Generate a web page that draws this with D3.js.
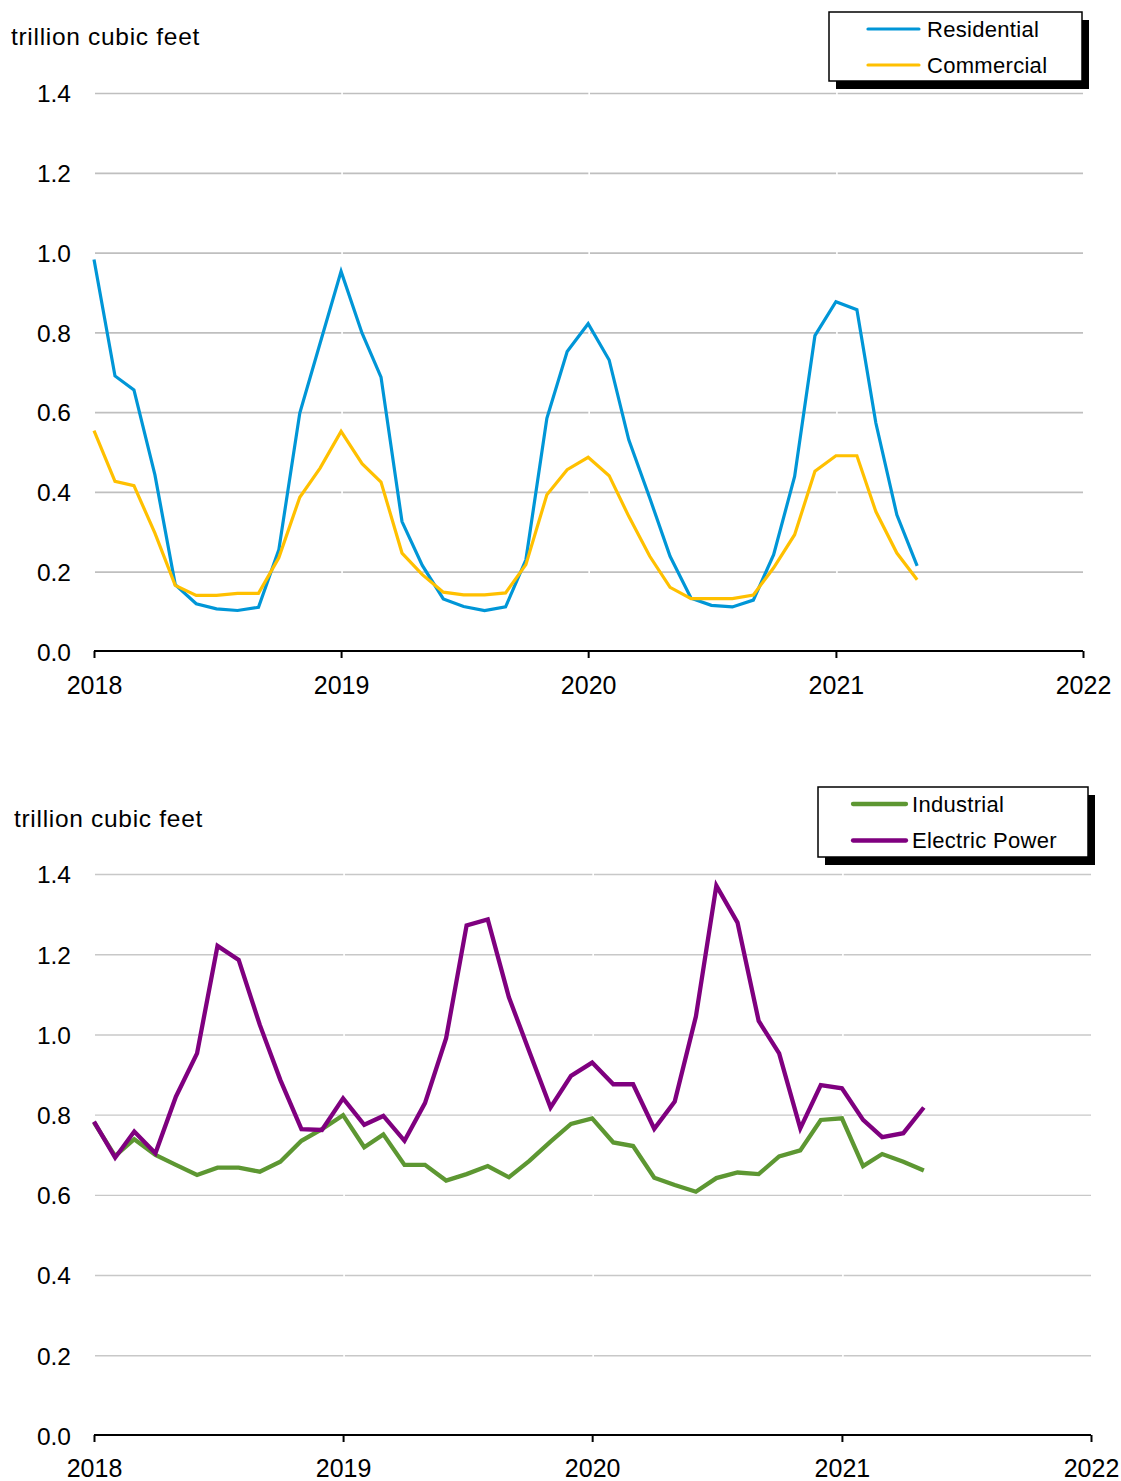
<!DOCTYPE html>
<html>
<head>
<meta charset="utf-8">
<script src="https://cdn.jsdelivr.net/npm/d3@7"></script>
<style>
  html, body { margin: 0; padding: 0; background: #fff; }
  svg { display: block; font-family: Arial, "Liberation Sans", sans-serif; }
</style>
</head>
<body>
<svg id="chart" width="1121" height="1481"></svg>
<script>
// ---------- DATA (monthly, Jan 2018 – May 2021) ----------
const startMonth = "2018-01";
const yearTicks = [2018, 2019, 2020, 2021, 2022];
const yTicks = [0.0, 0.2, 0.4, 0.6, 0.8, 1.0, 1.2, 1.4];
const unitLabel = "trillion cubic feet";

const residential = [0.984, 0.692, 0.657, 0.444, 0.169, 0.121, 0.108, 0.104, 0.112, 0.256, 0.599, 0.774,
  0.954, 0.799, 0.689, 0.327, 0.217, 0.133, 0.114, 0.104, 0.113, 0.231, 0.586, 0.753,
  0.823, 0.732, 0.532, 0.386, 0.240, 0.135, 0.117, 0.113, 0.130, 0.244, 0.440, 0.793,
  0.878, 0.858, 0.574, 0.344, 0.216];
const commercial = [0.555, 0.428, 0.417, 0.298, 0.167, 0.142, 0.142, 0.147, 0.147, 0.236, 0.388, 0.461,
  0.553, 0.472, 0.426, 0.248, 0.194, 0.150, 0.143, 0.143, 0.148, 0.219, 0.394, 0.457,
  0.488, 0.442, 0.340, 0.240, 0.162, 0.134, 0.134, 0.134, 0.143, 0.211, 0.294, 0.453,
  0.492, 0.492, 0.352, 0.248, 0.181];
const industrial = [0.782, 0.698, 0.740, 0.701, 0.676, 0.651, 0.669, 0.669, 0.659, 0.684, 0.736, 0.765,
  0.800, 0.720, 0.752, 0.676, 0.676, 0.637, 0.653, 0.673, 0.645, 0.686, 0.734, 0.778,
  0.792, 0.732, 0.723, 0.644, 0.626, 0.609, 0.643, 0.657, 0.653, 0.697, 0.712, 0.788,
  0.792, 0.673, 0.703, 0.684, 0.662];
const electricPower = [0.784, 0.694, 0.759, 0.705, 0.846, 0.954, 1.222, 1.187, 1.025, 0.888, 0.765, 0.763,
  0.842, 0.776, 0.798, 0.736, 0.830, 0.992, 1.273, 1.288, 1.094, 0.958, 0.819, 0.898,
  0.931, 0.877, 0.877, 0.766, 0.834, 1.046, 1.372, 1.280, 1.035, 0.954, 0.767, 0.875,
  0.867, 0.788, 0.745, 0.755, 0.819];

const seriesTop = [
  { name: "Residential", values: residential, color: "#0096D7" },
  { name: "Commercial", values: commercial, color: "#FFC000" }
];
const seriesBottom = [
  { name: "Industrial", values: industrial, color: "#5D9732" },
  { name: "Electric Power", values: electricPower, color: "#7F007F" }
];

// ---------- DRAW ----------
const svg = d3.select("#chart");
const parseMonth = d3.timeParse("%Y-%m");
const months = d3.timeMonth.range(parseMonth(startMonth), d3.timeMonth.offset(parseMonth(startMonth), residential.length));

function panel(cfg) {
  const g = svg.append("g");
  const x = d3.scaleTime()
    .domain([new Date(yearTicks[0], 0, 1), new Date(yearTicks[yearTicks.length - 1], 0, 1)])
    .range([cfg.x0, cfg.x1]);
  const y = d3.scaleLinear().domain([0, 1.4]).range([cfg.y0, cfg.y1]);

  // gridlines
  g.append("g").selectAll("line").data(yTicks.filter(v => v > 0)).join("line")
    .attr("x1", cfg.x0 + 1).attr("x2", cfg.x1)
    .attr("y1", d => y(d)).attr("y2", d => y(d))
    .attr("stroke", cfg.gridColor).attr("stroke-width", cfg.gridWidth);
  // small white gaps at year positions (as in original)
  g.append("g").selectAll("line").data(yearTicks.slice(1, -1)).join("line")
    .attr("x1", d => x(new Date(d, 0, 1)) + 1).attr("x2", d => x(new Date(d, 0, 1)) + 1)
    .attr("y1", y(1.4) - 2).attr("y2", y(0) - 3)
    .attr("stroke", "#fff").attr("stroke-width", 1.6);

  // y tick labels
  g.append("g").selectAll("text").data(yTicks).join("text")
    .attr("x", 71).attr("y", d => y(d)).attr("dy", "0.36em")
    .attr("text-anchor", "end").attr("font-size", 24.5).attr("fill", "#000")
    .text(d => d3.format(".1f")(d));

  // x axis
  const xAxis = d3.axisBottom(x)
    .tickValues(yearTicks.map(yy => new Date(yy, 0, 1)))
    .tickFormat(d3.timeFormat("%Y"))
    .tickSize(7).tickSizeOuter(0);
  const ax = g.append("g").attr("transform", `translate(0,${y(0) - 1})`).call(xAxis);
  ax.select(".domain").attr("stroke", "#000").attr("stroke-width", 2.2)
    .attr("d", `M${cfg.x0},0H${cfg.x1}`);
  ax.selectAll(".tick line").attr("stroke", "#000").attr("stroke-width", 2);
  ax.selectAll(".tick text").attr("font-size", 25).attr("fill", "#000")
    .attr("font-family", "Arial, 'Liberation Sans', sans-serif")
    .attr("y", cfg.labelOffset).attr("dy", 0);

  // unit label
  g.append("text").attr("x", cfg.unitX).attr("y", cfg.unitY)
    .attr("font-size", 24.5).attr("fill", "#000").attr("letter-spacing", 0.7)
    .text(unitLabel);

  // lines
  const line = d3.line().x((d, i) => x(months[i])).y(d => y(d));
  g.append("g").selectAll("path").data(cfg.series).join("path")
    .attr("d", d => line(d.values))
    .attr("fill", "none").attr("stroke", d => d.color)
    .attr("stroke-width", cfg.lineWidth).attr("stroke-linejoin", "miter").attr("stroke-linecap", "butt");

  // legend
  const L = cfg.legend;
  const lg = g.append("g");
  lg.append("rect").attr("x", L.x + 7).attr("y", L.y + 8).attr("width", L.w).attr("height", L.h).attr("fill", "#000");
  lg.append("rect").attr("x", L.x).attr("y", L.y).attr("width", L.w).attr("height", L.h)
    .attr("fill", "#fff").attr("stroke", "#000").attr("stroke-width", 1.5);
  const items = lg.selectAll("g.item").data(cfg.series).join("g").attr("class", "item")
    .attr("transform", (d, i) => `translate(0,${L.firstY + i * L.step})`);
  items.append("line").attr("x1", L.lx1).attr("x2", L.lx2).attr("y1", 0).attr("y2", 0)
    .attr("stroke", d => d.color).attr("stroke-width", cfg.legendLineWidth).attr("stroke-linecap", "round");
  items.append("text").attr("x", L.tx).attr("y", 0).attr("dy", "0.36em")
    .attr("font-size", 22).attr("letter-spacing", 0.3).attr("fill", "#000").text(d => d.name);
}

panel({
  x0: 94, x1: 1083, y0: 652, y1: 93.5,
  gridColor: "#BFBFBF", gridWidth: 1.7, lineWidth: 3.2, legendLineWidth: 3.2,
  labelOffset: 43, unitX: 11, unitY: 45,
  series: seriesTop,
  legend: { x: 829, y: 12, w: 253, h: 69, firstY: 29, step: 36, lx1: 868, lx2: 919, tx: 927 }
});
panel({
  x0: 94, x1: 1091, y0: 1436, y1: 874.5,
  gridColor: "#C8C8C8", gridWidth: 1.4, lineWidth: 4.3, legendLineWidth: 4.3,
  labelOffset: 42, unitX: 14, unitY: 827,
  series: seriesBottom,
  legend: { x: 818, y: 787, w: 270, h: 70, firstY: 804, step: 36.5, lx1: 853, lx2: 906, tx: 912 }
});
</script>
</body>
</html>
